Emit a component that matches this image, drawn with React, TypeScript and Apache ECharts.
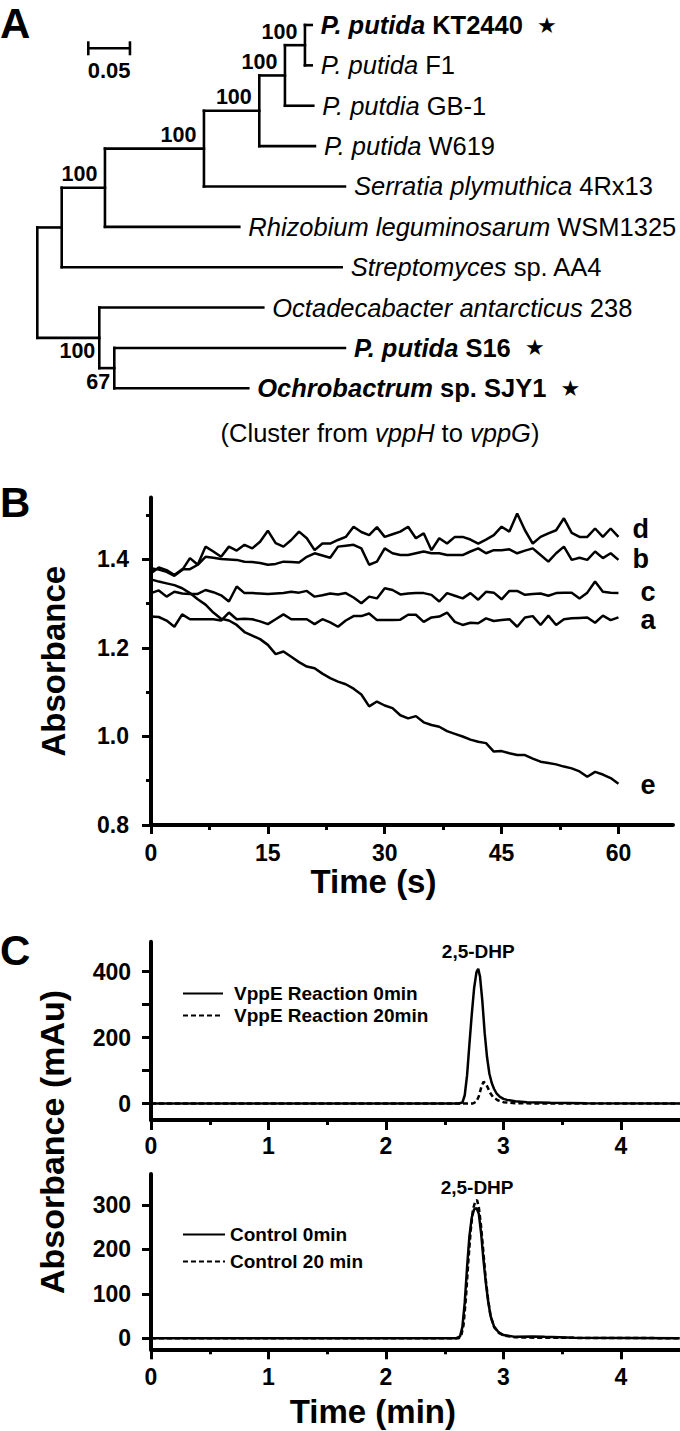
import React, { useEffect, useRef } from "react";
import * as echarts from "echarts";

const FONT = "'Liberation Sans', Arial, Helvetica, sans-serif";
const INK = "#000";

// ---------------- Panel A: phylogenetic tree ----------------
// node index -> parent index (-1 = root); branch length from parent (substitutions/site)
const treeParents = [-1, 0, 1, 2, 3, 4, 5, 6, 6, 5, 4, 3, 2, 1, 0, 14, 14, 16, 16];
const treeBranchLengths = [
  0, 0.0293, 0.0519, 0.1188, 0.0664, 0.0308, 0.024, 0.0081, 0.0081, 0.034, 0.0668, 0.1692, 0.1612,
  0.336, 0.0744, 0.1968, 0.018, 0.2768, 0.1608,
];
const bootstrapNodes = [2, 3, 4, 5, 6, 14, 16];
const bootstrapValues = [100, 100, 100, 100, 100, 100, 67];
// leaves in drawing order (top to bottom)
const leafGenus = [
  "P. putida", "P. putida", "P. putdia", "P. putida", "Serratia plymuthica",
  "Rhizobium leguminosarum", "Streptomyces", "Octadecabacter antarcticus", "P. putida", "Ochrobactrum",
];
const leafStrain = ["KT2440", "F1", "GB-1", "W619", "4Rx13", "WSM1325", "sp. AA4", "238", "S16", "sp. SJY1"];
const leafHighlighted = [true, false, false, false, false, false, false, false, true, true];
const scaleBarLength = 0.05;
const scaleBarLabel = "0.05";
const treeCaption = "(Cluster from {i|vppH} to {i|vppG})";

// ---------------- Panel B: absorbance vs time ----------------
const timeSeconds = [
  0, 1, 2, 3, 4, 5, 6, 7, 8, 9, 10, 11, 12, 13, 14, 15, 16, 17, 18, 19, 20, 21, 22, 23, 24, 25, 26, 27, 28, 29,
  30, 31, 32, 33, 34, 35, 36, 37, 38, 39, 40, 41, 42, 43, 44, 45, 46, 47, 48, 49, 50, 51, 52, 53, 54, 55, 56, 57,
  58, 59, 60,
];
const traceA = [
  1.271, 1.27, 1.262, 1.248, 1.276, 1.265, 1.265, 1.265, 1.265, 1.262,
  1.28, 1.265, 1.266, 1.265, 1.26, 1.254, 1.265, 1.276, 1.265, 1.265,
  1.265, 1.254, 1.265, 1.258, 1.248, 1.262, 1.272, 1.272, 1.278, 1.263,
  1.263, 1.263, 1.264, 1.275, 1.275, 1.259, 1.269, 1.271, 1.28, 1.259,
  1.252, 1.257, 1.256, 1.267, 1.261, 1.263, 1.265, 1.248, 1.269, 1.272,
  1.252, 1.273, 1.252, 1.265, 1.267, 1.268, 1.269, 1.257, 1.273, 1.263,
  1.269,
];
const traceB = [
  1.369, 1.382, 1.376, 1.365, 1.378, 1.378, 1.388, 1.406, 1.404, 1.401,
  1.4, 1.399, 1.395, 1.394, 1.392, 1.388, 1.39, 1.395, 1.394, 1.393,
  1.406, 1.414, 1.409, 1.404, 1.429, 1.431, 1.433, 1.425, 1.388, 1.395,
  1.425, 1.414, 1.41, 1.41, 1.414, 1.418, 1.414, 1.414, 1.41, 1.41,
  1.41, 1.418, 1.425, 1.414, 1.421, 1.421, 1.423, 1.414, 1.42, 1.425,
  1.41, 1.395, 1.414, 1.429, 1.399, 1.404, 1.399, 1.418, 1.403, 1.414,
  1.399,
];
const traceC = [
  1.324, 1.33, 1.316, 1.327, 1.323, 1.322, 1.322, 1.331, 1.326, 1.319,
  1.305, 1.339, 1.324, 1.324, 1.323, 1.322, 1.323, 1.324, 1.327, 1.325,
  1.329, 1.316, 1.319, 1.323, 1.321, 1.324, 1.314, 1.301, 1.316, 1.312,
  1.335, 1.331, 1.321, 1.323, 1.324, 1.324, 1.32, 1.305, 1.324, 1.318,
  1.312, 1.324, 1.309, 1.327, 1.325, 1.31, 1.329, 1.329, 1.32, 1.322,
  1.323, 1.318, 1.324, 1.325, 1.325, 1.312, 1.325, 1.35, 1.327, 1.325,
  1.324,
];
const traceD = [
  1.38, 1.377, 1.372, 1.363, 1.376, 1.403, 1.388, 1.429, 1.418, 1.406,
  1.429, 1.42, 1.433, 1.425, 1.44, 1.465, 1.437, 1.429, 1.444, 1.463,
  1.448, 1.421, 1.436, 1.436, 1.444, 1.451, 1.474, 1.462, 1.455, 1.473,
  1.451, 1.457, 1.463, 1.474, 1.448, 1.459, 1.421, 1.448, 1.436, 1.451,
  1.451, 1.445, 1.436, 1.445, 1.455, 1.474, 1.463, 1.504, 1.466, 1.436,
  1.451, 1.459, 1.466, 1.493, 1.46, 1.451, 1.451, 1.47, 1.451, 1.47,
  1.451,
];
const traceE = [
  1.355, 1.35, 1.346, 1.342, 1.335, 1.324, 1.31, 1.298, 1.28, 1.266,
  1.262, 1.252, 1.236, 1.228, 1.22, 1.207, 1.186, 1.192, 1.18, 1.168,
  1.158, 1.154, 1.142, 1.132, 1.124, 1.118, 1.108, 1.095, 1.068, 1.079,
  1.07, 1.064, 1.048, 1.041, 1.046, 1.032, 1.026, 1.022, 1.012, 1.006,
  1.0, 0.993, 0.988, 0.985, 0.966, 0.967, 0.962, 0.958, 0.958, 0.95,
  0.943, 0.94, 0.937, 0.932, 0.928, 0.921, 0.909, 0.92, 0.914, 0.906,
  0.893,
];
const traceNames = ["a", "b", "c", "d", "e"];
const bTimeTicks = [0, 15, 30, 45, 60];
const bTimeMinorTicks = [7.5, 22.5, 37.5, 52.5];
const bAbsTicks = [0.8, 1.0, 1.2, 1.4];
const bAbsMinorTicks = [0.9, 1.1, 1.3, 1.5];

// ---------------- Panel C: HPLC chromatograms ----------------
const reactionTime0 = [0, 2.62, 2.65, 2.67, 2.69, 2.71, 2.73, 2.75, 2.77, 2.785, 2.8, 2.82, 2.84, 2.86, 2.88, 2.9, 2.92, 2.94, 2.97, 3.0, 3.03, 3.1, 3.2, 3.4, 3.7, 4.5];
const reactionAbs0 = [0, 0, 3, 25, 85, 180, 270, 350, 398, 408, 385, 310, 213, 140, 90, 62, 44, 31, 20, 14, 11, 7, 4, 2, 0.5, 0];
const reactionTime20 = [0, 2.74, 2.77, 2.79, 2.81, 2.83, 2.85, 2.87, 2.89, 2.91, 2.95, 3.0, 3.1, 3.3, 4.5];
const reactionAbs20 = [0, 0, 6, 22, 48, 66, 60, 45, 30, 20, 10, 4, 1, 0, 0];
const controlTime0 = [0, 2.6, 2.63, 2.65, 2.67, 2.69, 2.71, 2.73, 2.75, 2.77, 2.79, 2.81, 2.83, 2.85, 2.87, 2.89, 2.92, 2.96, 3.0, 3.1, 3.25, 3.35, 3.6, 4.5];
const controlAbs0 = [0, 0, 4, 25, 80, 160, 230, 272, 290, 293, 280, 235, 175, 124, 82, 50, 26, 13, 7, 3, 4, 3, 1, 0];
const controlTime20 = [0, 2.62, 2.64, 2.66, 2.68, 2.7, 2.72, 2.74, 2.76, 2.775, 2.79, 2.81, 2.83, 2.85, 2.87, 2.89, 2.92, 2.96, 3.0, 3.1, 3.3, 4.5];
const controlAbs20 = [0, 0, 5, 30, 90, 170, 240, 290, 308, 311, 295, 250, 190, 130, 85, 50, 25, 12, 6, 2, 1, 0];
const reactionNames = ["VppE Reaction 0min", "VppE Reaction 20min"];
const controlNames = ["Control 0min", "Control 20 min"];
const peakName = "2,5-DHP";
const cTimeTicks = [0, 1, 2, 3, 4];
const cTimeMinorTicks = [0.5, 1.5, 2.5, 3.5];
const cTopAbsTicks = [0, 100, 200, 300, 400];
const cTopAbsLabels = [0, 200, 400];
const cBottomAbsTicks = [0, 100, 200, 300];

// ---------------- helpers ----------------
function layoutTree() {
  const n = treeParents.length;
  const children: number[][] = Array.from({ length: n }, () => []);
  treeParents.forEach((p, i) => {
    if (p >= 0) children[p].push(i);
  });
  const depth = new Array(n).fill(0);
  const row = new Array(n).fill(0);
  const leafOrder: number[] = [];
  const visit = (i: number, d: number) => {
    depth[i] = d + treeBranchLengths[i];
    if (children[i].length === 0) {
      row[i] = leafOrder.length;
      leafOrder.push(i);
      return;
    }
    children[i].forEach((c) => visit(c, depth[i]));
    const rows = children[i].map((c) => row[c]);
    row[i] = (Math.min(...rows) + Math.max(...rows)) / 2;
  };
  visit(0, 0);
  return { children, depth, row, leafOrder };
}

const pairs = (xs: number[], ys: number[]) => xs.map((x, i) => [x, ys[i]]);

const tickFont = { color: INK, fontSize: 23, fontWeight: "bold", fontFamily: FONT };
const titleFont = { color: INK, fontSize: 33, fontWeight: "bold", fontFamily: FONT };
const axisLineStyle = { show: true, onZero: false, lineStyle: { color: INK, width: 4 } };

function mainAxis(o: any) {
  return {
    type: "value",
    axisLine: axisLineStyle,
    splitLine: { show: false },
    ...o,
    axisTick: { show: true, length: 9, lineStyle: { color: INK, width: 3 }, ...o.axisTick },
    axisLabel: { ...tickFont, ...o.axisLabel },
  };
}
function minorAxis(o: any) {
  return {
    type: "value",
    axisLine: { show: false, onZero: false },
    axisLabel: { show: false },
    splitLine: { show: false },
    ...o,
    axisTick: { show: true, length: 5, lineStyle: { color: INK, width: 3 }, ...o.axisTick },
  };
}

function peakMark(xs: number[], ys: number[], distance: number) {
  let k = 0;
  ys.forEach((v, i) => {
    if (v > ys[k]) k = i;
  });
  return {
    symbol: "circle",
    symbolSize: 1,
    itemStyle: { color: "rgba(0,0,0,0)" },
    label: {
      show: true,
      position: "top",
      distance,
      formatter: peakName,
      color: INK,
      fontSize: 19,
      fontWeight: "bold",
      fontFamily: FONT,
    },
    data: [{ coord: [xs[k], ys[k]] }],
  };
}

function buildOption() {
  const tree = layoutTree();
  const lineStyle = { stroke: INK, lineWidth: 2.6, lineCap: "square" };

  const treeData = tree.depth.map((d: number, i: number) => {
    const kids = tree.children[i];
    const p = treeParents[i];
    const kidRows = kids.map((c) => tree.row[c]);
    return [
      d,
      tree.row[i],
      p >= 0 ? tree.depth[p] : 0,
      kids.length ? Math.min(...kidRows) : 0,
      kids.length ? Math.max(...kidRows) : 0,
      p >= 0 ? 1 : 0,
      kids.length ? 1 : 0,
    ];
  });

  const leafData = tree.leafOrder.map((node) => [tree.depth[node], tree.row[node]]);
  const bootData = bootstrapNodes.map((node, k) => {
    const below = tree.row[node] > tree.row[0];
    return {
      value: [tree.depth[node], tree.row[node]],
      label: {
        formatter: String(bootstrapValues[k]),
        distance: below ? 4 : 7.5,
        offset: [0, below ? 13.5 : -13.5],
      },
    };
  });

  const traces = [traceA, traceB, traceC, traceD, traceE];
  const endLabelShift: Record<string, [number, number]> = {
    a: [22, 3],
    b: [14, -1],
    c: [22, -1.5],
    d: [14, -8],
    e: [22, 1],
  };

  const bSeries = traces.map((tr, k) => ({
    name: traceNames[k],
    type: "line",
    xAxisIndex: 1,
    yAxisIndex: 1,
    data: pairs(timeSeconds, tr),
    showSymbol: false,
    symbol: "none",
    silent: true,
    color: INK,
    lineStyle: { color: INK, width: 2.5 },
    endLabel: {
      show: true,
      formatter: traceNames[k],
      distance: endLabelShift[traceNames[k]][0],
      offset: [0, endLabelShift[traceNames[k]][1]],
      color: INK,
      fontSize: 27,
      lineHeight: 26,
      fontWeight: "bold",
      fontFamily: FONT,
    },
  }));

  const cLine = (name: string, xi: number, yi: number, xs: number[], ys: number[], dashed: boolean, mark?: any) => ({
    name,
    type: "line",
    xAxisIndex: xi,
    yAxisIndex: yi,
    data: pairs(xs, ys),
    showSymbol: false,
    symbol: "none",
    silent: true,
    color: INK,
    z: dashed ? 3 : 2,
    lineStyle: { color: INK, width: 2.5, type: dashed ? [5, 3] : "solid" },
    ...(mark ? { markPoint: mark } : {}),
  });

  const legendText = { color: INK, fontSize: 19, fontWeight: "bold", fontFamily: FONT };
  const legendIconStyle = { color: "rgba(0,0,0,0)", borderColor: "rgba(0,0,0,0)", borderWidth: 0, opacity: 0 };
  const labelText = { color: INK, fontFamily: FONT, textBorderWidth: 0, opacity: 1 };

  return {
    animation: false,
    backgroundColor: "#fff",
    textStyle: { fontFamily: FONT, color: INK },
    grid: [
      { left: 37.3, top: 25, width: 333.3, height: 363.3, outerBoundsMode: "none" },
      { left: 151, top: 497.5, width: 522, height: 327.5, outerBoundsMode: "none" },
      { left: 151, top: 941.8, width: 528.75, height: 178.2, outerBoundsMode: "none" },
      { left: 151, top: 1173.9, width: 528.75, height: 175.4, outerBoundsMode: "none" },
    ],
    xAxis: [
      { gridIndex: 0, type: "value", min: 0, max: 0.4, show: false },
      mainAxis({
        gridIndex: 1,
        min: 0,
        max: 67,
        position: "bottom",
        axisTick: { customValues: bTimeTicks },
        axisLabel: { customValues: bTimeTicks, margin: 16 },
        name: "Time (s)",
        nameLocation: "middle",
        nameGap: 40,
        nameTextStyle: { ...titleFont, padding: [0, 77, 0, 0] },
      }),
      minorAxis({ gridIndex: 1, min: 0, max: 67, position: "bottom", axisTick: { customValues: bTimeMinorTicks } }),
      mainAxis({
        gridIndex: 2,
        min: 0,
        max: 4.5,
        position: "bottom",
        axisTick: { customValues: cTimeTicks, length: 10 },
        axisLabel: { customValues: cTimeTicks, margin: 14 },
      }),
      minorAxis({ gridIndex: 2, min: 0, max: 4.5, position: "bottom", axisTick: { customValues: cTimeMinorTicks } }),
      mainAxis({
        gridIndex: 3,
        min: 0,
        max: 4.5,
        position: "bottom",
        axisTick: { customValues: cTimeTicks, length: 10 },
        axisLabel: { customValues: cTimeTicks, margin: 16 },
        name: "Time (min)",
        nameLocation: "middle",
        nameGap: 46,
        nameTextStyle: { ...titleFont, padding: [0, 85, 0, 0] },
      }),
      minorAxis({ gridIndex: 3, min: 0, max: 4.5, position: "bottom", axisTick: { customValues: cTimeMinorTicks } }),
    ],
    yAxis: [
      { gridIndex: 0, type: "value", min: 0, max: 9, inverse: true, show: false },
      mainAxis({
        gridIndex: 1,
        min: 0.8,
        max: 1.54,
        position: "left",
        axisTick: { customValues: bAbsTicks },
        axisLabel: { customValues: bAbsTicks, margin: 22, formatter: (v: number) => v.toFixed(1) },
        name: "Absorbance",
        nameLocation: "middle",
        nameGap: 81,
        nameTextStyle: titleFont,
      }),
      minorAxis({ gridIndex: 1, min: 0.8, max: 1.54, position: "left", axisTick: { customValues: bAbsMinorTicks } }),
      mainAxis({
        gridIndex: 2,
        min: -50,
        max: 490,
        position: "left",
        axisTick: { customValues: cTopAbsTicks },
        axisLabel: { customValues: cTopAbsLabels, margin: 20 },
      }),
      mainAxis({
        gridIndex: 3,
        min: -25,
        max: 370,
        position: "left",
        axisTick: { customValues: cBottomAbsTicks },
        axisLabel: { customValues: cBottomAbsTicks, margin: 20 },
      }),
    ],
    legend: [
      {
        data: reactionNames,
        orient: "vertical",
        left: 182,
        top: 984,
        padding: 0,
        itemWidth: 40,
        itemHeight: 20,
        itemGap: 3,
        selectedMode: false,
        itemStyle: legendIconStyle,
        textStyle: { ...legendText, padding: [0, 0, 0, 6] },
      },
      {
        data: controlNames,
        orient: "vertical",
        left: 182,
        top: 1225,
        padding: 0,
        itemWidth: 42,
        itemHeight: 20,
        itemGap: 8,
        selectedMode: false,
        itemStyle: legendIconStyle,
        textStyle: legendText,
      },
    ],
    graphic: [
      { type: "text", x: 0, y: 23, style: { text: "A", fontSize: 42, fontWeight: "bold", fontFamily: FONT, fill: INK, textAlign: "left", textVerticalAlign: "middle" } },
      { type: "text", x: 0, y: 502, style: { text: "B", fontSize: 42, fontWeight: "bold", fontFamily: FONT, fill: INK, textAlign: "left", textVerticalAlign: "middle" } },
      { type: "text", x: 0, y: 950, style: { text: "C", fontSize: 42, fontWeight: "bold", fontFamily: FONT, fill: INK, textAlign: "left", textVerticalAlign: "middle" } },
      {
        type: "text",
        x: 380,
        y: 433,
        style: {
          text: treeCaption,
          fontSize: 25.5,
          fontFamily: FONT,
          fill: INK,
          textAlign: "center",
          textVerticalAlign: "middle",
          rich: { i: { fontStyle: "italic", fontSize: 25.5, fontFamily: FONT, fill: INK, color: INK } },
        },
      },
      {
        type: "text",
        x: 52,
        y: 1142,
        rotation: Math.PI / 2,
        style: {
          text: "Absorbance (mAu)",
          fontSize: 34,
          fontWeight: "bold",
          fontFamily: FONT,
          fill: INK,
          textAlign: "center",
          textVerticalAlign: "middle",
        },
      },
    ],
    series: [
      {
        type: "custom",
        xAxisIndex: 0,
        yAxisIndex: 0,
        silent: true,
        clip: false,
        data: treeData,
        renderItem: (_p: any, api: any) => {
          const x = api.value(0);
          const y = api.value(1);
          const px = api.value(2);
          const y0 = api.value(3);
          const y1 = api.value(4);
          const kids: any[] = [];
          if (api.value(5)) {
            const a = api.coord([px, y]);
            const b = api.coord([x, y]);
            kids.push({ type: "line", shape: { x1: a[0], y1: a[1], x2: b[0], y2: b[1] }, style: lineStyle });
          }
          if (api.value(6)) {
            const a = api.coord([x, y0]);
            const b = api.coord([x, y1]);
            kids.push({ type: "line", shape: { x1: a[0], y1: a[1], x2: b[0], y2: b[1] }, style: lineStyle });
          }
          return { type: "group", children: kids };
        },
      },
      {
        type: "custom",
        xAxisIndex: 0,
        yAxisIndex: 0,
        silent: true,
        clip: false,
        data: [[0.0612, 0.577, scaleBarLength]],
        renderItem: (_p: any, api: any) => {
          const a = api.coord([api.value(0), api.value(1)]);
          const b = api.coord([api.value(0) + api.value(2), api.value(1)]);
          const h = 7;
          const st = { stroke: INK, lineWidth: 2.6 };
          return {
            type: "group",
            children: [
              { type: "line", shape: { x1: a[0], y1: a[1], x2: b[0], y2: b[1] }, style: st },
              { type: "line", shape: { x1: a[0], y1: a[1] - h, x2: a[0], y2: a[1] + h }, style: st },
              { type: "line", shape: { x1: b[0], y1: b[1] - h, x2: b[0], y2: b[1] + h }, style: st },
              {
                type: "text",
                x: (a[0] + b[0]) / 2,
                y: a[1] + 22,
                style: {
                  text: scaleBarLabel,
                  fontSize: 22,
                  fontWeight: "bold",
                  fontFamily: FONT,
                  fill: INK,
                  textAlign: "center",
                  textVerticalAlign: "middle",
                },
              },
            ],
          };
        },
      },
      {
        type: "scatter",
        xAxisIndex: 0,
        yAxisIndex: 0,
        silent: true,
        clip: false,
        symbolSize: 0,
        itemStyle: { color: INK },
        data: leafData,
        label: {
          show: true,
          position: "right",
          distance: 9,
          fontSize: 25.5,
          ...labelText,
          formatter: (p: any) => {
            const k = p.dataIndex;
            return leafHighlighted[k]
              ? `{gb|${leafGenus[k]}} {sb|${leafStrain[k]}}  {star|★}`
              : `{g|${leafGenus[k]}} {s|${leafStrain[k]}}`;
          },
          rich: {
            g: { fontStyle: "italic", fontSize: 25.5, fontFamily: FONT, color: INK },
            s: { fontSize: 25.5, fontFamily: FONT, color: INK },
            gb: { fontStyle: "italic", fontWeight: "bold", fontSize: 25.5, fontFamily: FONT, color: INK },
            sb: { fontWeight: "bold", fontSize: 25.5, fontFamily: FONT, color: INK },
            star: { fontSize: 22, fontFamily: "'DejaVu Sans', sans-serif", color: INK },
          },
        },
      },
      {
        type: "scatter",
        xAxisIndex: 0,
        yAxisIndex: 0,
        silent: true,
        clip: false,
        symbolSize: 0,
        itemStyle: { color: INK },
        data: bootData,
        label: {
          show: true,
          position: "left",
          fontSize: 21.5,
          fontWeight: "bold",
          ...labelText,
        },
      },
      ...bSeries,
      cLine(reactionNames[0], 3, 3, reactionTime0, reactionAbs0, false, peakMark(reactionTime0, reactionAbs0, 7)),
      cLine(reactionNames[1], 3, 3, reactionTime20, reactionAbs20, true),
      cLine(controlNames[0], 5, 4, controlTime0, controlAbs0, false),
      cLine(controlNames[1], 5, 4, controlTime20, controlAbs20, true, peakMark(controlTime20, controlAbs20, 3)),
    ],
  };
}

export default function App() {
  const ref = useRef<HTMLDivElement>(null);
  useEffect(() => {
    if (!ref.current) return;
    const chart = echarts.init(ref.current, undefined, { renderer: "svg" });
    chart.setOption(buildOption() as any);
    return () => chart.dispose();
  }, []);
  return (
    <div
      ref={ref}
      style={{ position: "fixed", left: 0, top: 0, width: 680, height: 1431, background: "#fff" }}
    />
  );
}
